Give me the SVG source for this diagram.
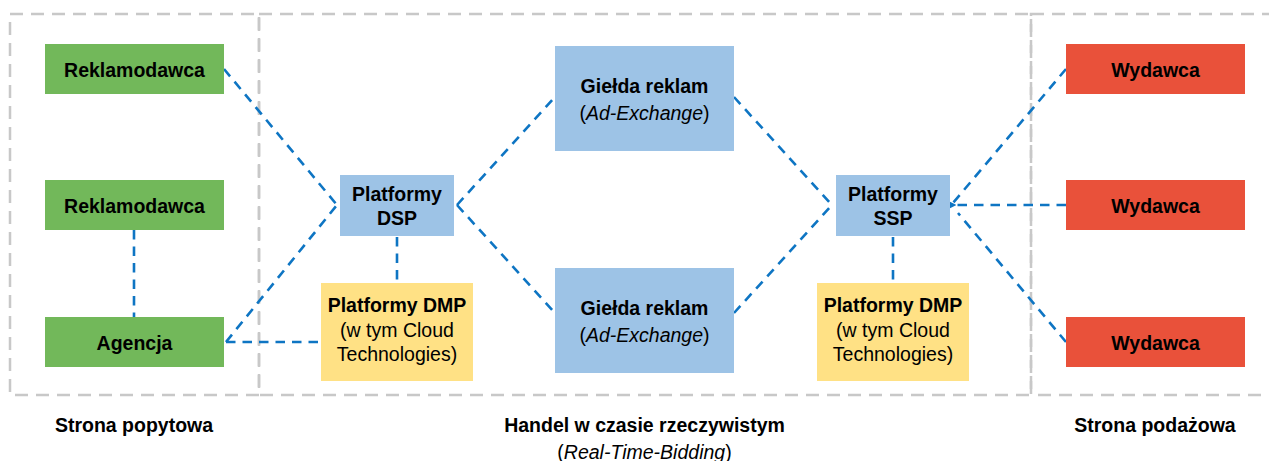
<svg xmlns="http://www.w3.org/2000/svg" width="1269" height="461" viewBox="0 0 1269 461">
  <style>
    .zone { fill: none; stroke: #C8C8C8; stroke-width: 2.5; stroke-dasharray: 13 8; }
    .link { fill: none; stroke: #0E75C3; stroke-width: 2.6; stroke-dasharray: 9.5 7; }
    .green { fill: #72B85A; }
    .blue { fill: #9DC3E6; }
    .yellow { fill: #FFE185; }
    .red { fill: #E9513A; }
    text { font-family: "Liberation Sans", Arial, sans-serif; fill: #000; text-anchor: middle; }
    .b { font-weight: bold; font-size: 19.5px; }
    .r { font-size: 19.5px; }
    .i { font-style: italic; }
  </style>
  <defs>
    <marker id="tip" viewBox="0 0 6 6" refX="1" refY="3" markerWidth="3" markerHeight="3" orient="auto">
      <path d="M6,0 L0,3 L6,6 z" fill="#0E75C3"/>
    </marker>
  </defs>

  <!-- zone frames -->
  <g id="zones">
    <rect class="zone" x="10" y="14" width="249" height="381"/>
    <rect class="zone" x="259" y="14" width="772" height="381"/>
    <rect class="zone" x="1031" y="14" width="250" height="381"/>
  </g>

  <!-- connectors -->
  <g id="connectors">
    <line class="link" x1="224" y1="69" x2="337" y2="205"/>
    <line class="link" x1="226" y1="342" x2="337" y2="205"/>
    <line class="link" x1="226" y1="342" x2="321" y2="342"/>
    <line class="link" x1="134" y1="230" x2="134" y2="317"/>
    <line class="link" x1="397" y1="237" x2="397" y2="283"/>
    <line class="link" x1="457" y1="205" x2="555" y2="97"/>
    <line class="link" x1="457" y1="205" x2="555" y2="313"/>
    <line class="link" x1="734" y1="97" x2="832" y2="205"/>
    <line class="link" x1="734" y1="313" x2="832" y2="205"/>
    <line class="link" x1="893" y1="237" x2="893" y2="283"/>
    <line class="link" x1="1066" y1="69" x2="953" y2="203"/>
    <line class="link" x1="1066" y1="205" x2="955" y2="205" marker-end="url(#tip)"/>
    <line class="link" x1="1066" y1="342" x2="958" y2="213"/>
  </g>

  <!-- demand side -->
  <g id="advertiser-1">
    <rect class="green" x="45" y="44" width="179" height="50"/>
    <text class="b" x="134.5" y="77">Reklamodawca</text>
  </g>
  <g id="advertiser-2">
    <rect class="green" x="45" y="180" width="179" height="50"/>
    <text class="b" x="134.5" y="213">Reklamodawca</text>
  </g>
  <g id="agency">
    <rect class="green" x="45" y="317" width="179" height="50"/>
    <text class="b" x="134.5" y="350">Agencja</text>
  </g>

  <!-- real-time bidding -->
  <g id="dsp">
    <rect class="blue" x="340" y="175" width="114" height="61"/>
    <text class="b" x="397" y="201">Platformy</text>
    <text class="b" x="397" y="225">DSP</text>
  </g>
  <g id="dmp-left">
    <rect class="yellow" x="321" y="283" width="152" height="98"/>
    <text class="b" x="397" y="312">Platformy DMP</text>
    <text class="r" x="397" y="337">(w tym Cloud</text>
    <text class="r" x="397" y="361">Technologies)</text>
  </g>
  <g id="exchange-top">
    <rect class="blue" x="555" y="46" width="179" height="105"/>
    <text class="b" x="644.5" y="93">Giełda reklam</text>
    <text class="r" x="644.5" y="120">(<tspan class="i">Ad-Exchange</tspan>)</text>
  </g>
  <g id="exchange-bottom">
    <rect class="blue" x="555" y="268" width="179" height="105"/>
    <text class="b" x="644.5" y="315">Giełda reklam</text>
    <text class="r" x="644.5" y="342">(<tspan class="i">Ad-Exchange</tspan>)</text>
  </g>
  <g id="ssp">
    <rect class="blue" x="836" y="175" width="114" height="61"/>
    <text class="b" x="893" y="201">Platformy</text>
    <text class="b" x="893" y="225">SSP</text>
  </g>
  <g id="dmp-right">
    <rect class="yellow" x="817" y="283" width="152" height="98"/>
    <text class="b" x="893" y="312">Platformy DMP</text>
    <text class="r" x="893" y="337">(w tym Cloud</text>
    <text class="r" x="893" y="361">Technologies)</text>
  </g>

  <!-- supply side -->
  <g id="publisher-1">
    <rect class="red" x="1066" y="44" width="179" height="50"/>
    <text class="b" x="1155.5" y="77">Wydawca</text>
  </g>
  <g id="publisher-2">
    <rect class="red" x="1066" y="180" width="179" height="50"/>
    <text class="b" x="1155.5" y="213">Wydawca</text>
  </g>
  <g id="publisher-3">
    <rect class="red" x="1066" y="317" width="179" height="50"/>
    <text class="b" x="1155.5" y="350">Wydawca</text>
  </g>

  <!-- zone captions -->
  <g id="captions">
    <text class="b" x="134" y="432">Strona popytowa</text>
    <text class="b" x="644.5" y="432">Handel w czasie rzeczywistym</text>
    <text class="r" x="644.5" y="459">(<tspan class="i">Real-Time-Bidding</tspan>)</text>
    <text class="b" x="1155" y="432">Strona podażowa</text>
  </g>
</svg>
